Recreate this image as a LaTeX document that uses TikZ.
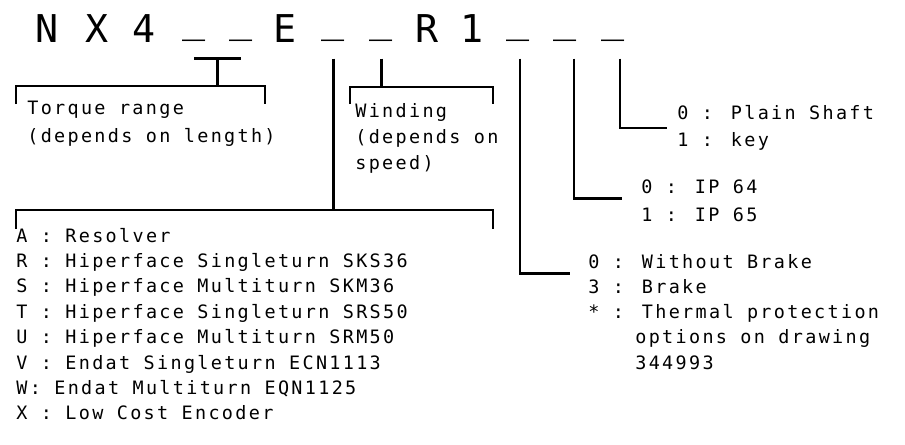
\documentclass[tikz,border=0pt]{standalone}
\usepackage{fontspec}
\newfontfamily\isofont[LetterSpace=12.6]{DejaVu Sans Mono}
\newfontfamily\codefont{DejaVu Sans Mono}
\usepackage{tikz}
\usetikzlibrary{calc, positioning}
\newcommand{\slotmark}{\raisebox{0.25em}{\_}}
\tikzset{
  code/.style={anchor=base, inner sep=0pt, text depth=0.32cm,
    font=\codefont\fontsize{21.8}{26}\selectfont},
  txt/.style={anchor=base west, inner sep=0pt,
    font=\isofont\fontsize{10.5}{14}\selectfont},
  lead/.style={line width=1.6pt},
}

\begin{document}
\begin{tikzpicture}
    \useasboundingbox (0,0) rectangle (18.10,-8.88);
    % Type code
    \foreach \c/\x [count=\i from 0] in {N/0.95, X/1.95, 4/2.89,
        \slotmark/3.88, \slotmark/4.82, E/5.71, \slotmark/6.67, \slotmark/7.63,
        R/8.54, 1/9.44, \slotmark/10.36, \slotmark/11.31, \slotmark/12.27}
      \node[code] (c\i) at (\x,-0.846) {\c};
    % Torque range
    \coordinate (tqL) at (0.32,-1.72);
    \coordinate (tqR) at (5.30,-1.72);
    \coordinate (tqmid) at ($(c3.south)!0.5!(c4.south)$);
    \draw[lead] (c3.south) -- (c4.south);
    \draw[lead] (tqmid) -- (tqmid |- tqL);
    \draw[lead] ([yshift=-0.36cm]tqL) -- (tqL) -- (tqR) -- ([yshift=-0.36cm]tqR);
    \foreach \t [count=\k from 0] in {Torque range, {(depends on length)}}
      \node[txt] (tq\k) at (0.54,{-2.28-0.57*\k}) {\t};
    % Winding
    \coordinate (wdL) at (7.00,-1.74);
    \coordinate (wdR) at (9.86,-1.74);
    \draw[lead] (c7.south) -- (c7.south |- wdL);
    \draw[lead] ([yshift=-0.34cm]wdL) -- (wdL) -- (wdR) -- ([yshift=-0.34cm]wdR);
    \foreach \t [count=\k from 0] in {Winding, {(depends on}, {speed)}}
      \node[txt] (wd\k) at (7.10,{-2.35-0.52*\k}) {\t};
    % Feedback
    \coordinate (fbL) at (0.32,-4.20);
    \coordinate (fbR) at (9.86,-4.20);
    \draw[lead] (c6.south) -- (c6.south |- fbL);
    \draw[lead] ([yshift=-0.37cm]fbL) -- (fbL) -- (fbR) -- ([yshift=-0.37cm]fbR);
    \foreach \t [count=\k from 0] in {A : Resolver,
        R : Hiperface Singleturn SKS36, S : Hiperface Multiturn SKM36,
        T : Hiperface Singleturn SRS50, U : Hiperface Multiturn SRM50,
        V : Endat Singleturn ECN1113, W: Endat Multiturn EQN1125,
        X : Low Cost Encoder}
      \node[txt] (fb\k) at (0.32,{-4.84-0.508*\k}) {\t};
    % Brake
    \foreach \t [count=\k from 0] in {0 : Without Brake, 3 : Brake,
        * : Thermal protection, \hspace*{0.94cm}options on drawing,
        \hspace*{0.94cm}344993}
      \node[txt] (bk\k) at (11.76,{-5.36-0.506*\k}) {\t};
    \draw[lead] ([xshift=0.04cm]c10.south) |- ([shift={(-0.36,-0.11)}]bk0.base west);
    % Protection
    \foreach \t [count=\k from 0] in {0 : IP 64, 1 : IP 65}
      \node[txt] (ip\k) at (12.82,{-3.87-0.554*\k}) {\t};
    \draw[lead] ([xshift=0.17cm]c11.south) |- ([shift={(-0.38,-0.10)}]ip0.base west);
    % Shaft
    \foreach \t [count=\k from 0] in {0 : Plain Shaft, 1 : key}
      \node[txt] (sh\k) at (13.54,{-2.39-0.548*\k}) {\t};
    \draw[lead] ([xshift=0.13cm]c12.south) |- ([shift={(-0.20,-0.17)}]sh0.base west);
\end{tikzpicture}
\end{document}
